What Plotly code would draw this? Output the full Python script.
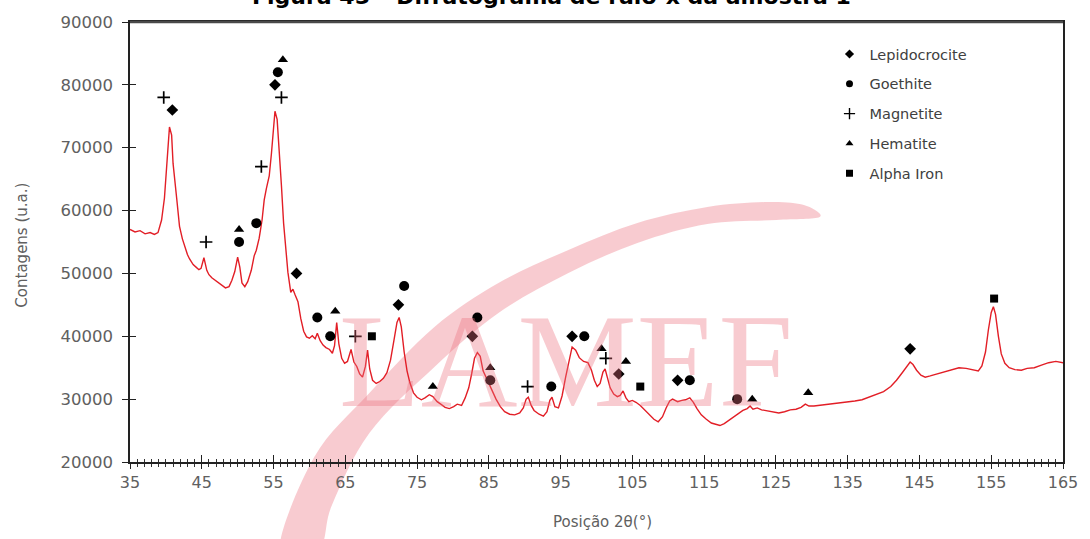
import plotly.graph_objects as go

# Diffractogram: 2-theta position (degrees) and counts
two_theta = [
    35.0, 35.7, 36.4, 37.1, 37.8, 38.4, 38.9, 39.4, 39.8, 40.2, 40.5, 40.8, 41.0, 41.5, 41.9,
    42.3, 42.6, 43.0, 43.3, 43.8, 44.2, 44.6, 44.9, 45.3, 45.7, 46.0, 46.4, 46.9, 47.4, 47.9,
    48.3, 48.8, 49.2, 49.6, 50.0, 50.3, 50.6, 51.0, 51.4, 51.9, 52.3, 52.6, 53.0, 53.4, 53.7,
    54.0, 54.4, 54.7, 55.0, 55.2, 55.5, 55.8, 56.1, 56.4, 56.7, 57.0, 57.4, 57.7, 58.0, 58.4,
    58.8, 59.2, 59.6, 60.0, 60.4, 60.8, 61.1, 61.5, 61.9, 62.3, 62.8, 63.2, 63.5, 63.8, 64.1,
    64.5, 64.9, 65.3, 65.8, 66.2, 66.6, 67.0, 67.4, 67.8, 68.1, 68.4, 68.8, 69.3, 69.8, 70.3,
    70.8, 71.3, 71.8, 72.2, 72.5, 72.8, 73.2, 73.6, 74.0, 74.5, 75.0, 75.6, 76.1, 76.7, 77.2,
    77.8, 78.3, 78.9, 79.5, 80.1, 80.6, 81.2, 81.7, 82.2, 82.6, 83.0, 83.4, 83.8, 84.2, 84.6,
    85.0, 85.5, 86.0, 86.6, 87.2, 87.9, 88.6, 89.3, 89.8, 90.2, 90.5, 90.9, 91.3, 92.0, 92.6,
    93.1, 93.5, 93.8, 94.2, 94.7, 95.2, 95.7, 96.2, 96.6, 97.1, 97.6, 98.2, 98.8, 99.3, 99.7,
    100.1, 100.5, 100.9, 101.2, 101.5, 101.9, 102.4, 102.9, 103.3, 103.7, 104.1, 104.5, 105.0,
    105.5, 106.1, 106.7, 107.4, 108.0, 108.6, 109.2, 109.7, 110.2, 110.6, 111.3, 111.9, 112.4,
    113.0, 113.5, 114.0, 114.6, 115.3, 116.0, 116.6, 117.2, 117.8, 118.4, 119.1, 119.8, 120.4,
    121.0, 121.4, 121.8, 122.4, 123.0, 123.8, 124.6, 125.4, 126.2, 127.0, 127.8, 128.5, 129.1,
    129.6, 130.3, 131.0, 132.0, 133.0, 134.0, 135.0, 136.0, 137.0, 138.0, 139.0, 140.0, 141.0,
    141.8, 142.6, 143.2, 143.7, 144.1, 144.6, 145.2, 145.8, 146.5, 147.5, 148.5, 149.5, 150.5,
    151.5, 152.5, 153.2, 153.7, 154.2, 154.6, 155.0, 155.3, 155.6, 156.0, 156.4, 156.9, 157.5,
    158.3, 159.2, 160.0, 161.0, 162.0, 163.0, 164.0, 165.0,
]
counts = [
    57000, 56600, 56800, 56300, 56500, 56200, 56500, 58500, 62000, 69000, 73300, 72000, 67500, 62000, 57500,
    55500, 54300, 53000, 52300, 51400, 51000, 50600, 50800, 52500, 50500, 49800, 49300, 48900, 48400, 48000,
    47700, 47900, 48900, 50300, 52600, 51000, 48500, 47900, 48700, 50500, 52800, 53700, 55600, 58500, 61700,
    63500, 65500, 69000, 73500, 75800, 74500, 70000, 64000, 58000, 53500, 50200, 47000, 47500, 46600, 45500,
    42800, 40800, 39900, 39700, 40100, 39600, 40500, 39300, 38600, 38200, 37900, 37300, 38500, 42200, 38800,
    36500, 35700, 36000, 37900, 35900, 35200, 34000, 33500, 35200, 37800, 34800, 33000, 32500, 32800, 33300,
    34200, 36200, 39500, 42200, 43000, 41500, 37500, 34500, 32600, 31000, 30300, 29900, 30200, 30700, 30400,
    29600, 29200, 28700, 28500, 28800, 29200, 29000, 30200, 31800, 34000, 36500, 37400, 36800, 34500, 33500,
    32600, 31500, 30000, 28800, 28000, 27600, 27500, 27800, 28600, 30000, 30300, 29000, 28200, 27600, 27300,
    28000, 29800, 30300, 28800, 28600, 30500, 33500, 36300, 38300, 37800, 36600, 36000, 35800, 34600, 33000,
    32000, 32500, 34300, 34800, 33500, 31800, 30800, 30400, 30600, 31300, 30200, 29600, 29800,
    29500, 29000, 28300, 27600, 26800, 26400, 27200, 28600, 29700, 30000, 29600, 29800, 29900,
    30200, 29500, 28500, 27500, 26800, 26200, 26000, 25800, 26100, 26600, 27100, 27800, 28200,
    28500, 28900, 28400, 28600, 28300, 28100, 27900, 27800, 28000, 28300, 28400, 28700, 29200,
    28900, 28900, 29000, 29100, 29200, 29400, 29500, 29700, 29900, 30300, 30700, 31200, 32000,
    33000, 34200, 35200, 35900, 35500, 34600, 33800, 33500, 33700, 34000, 34300, 34700, 35000,
    34900, 34600, 34500, 35300, 37500, 41000, 43800, 44700, 43500, 40000, 37200, 35700, 35000,
    34700, 34600, 34900, 35000, 35400, 35800, 36000, 35800,
]

# Phase identification markers (position, counts)
lepido_x = [40.9, 55.2, 58.2, 72.4, 82.7, 96.6, 103.1, 111.3, 143.7]
lepido_y = [76000, 80000, 50000, 45000, 40000, 40000, 34000, 33000, 38000]
goethite_x = [50.2, 52.6, 55.6, 61.1, 62.9, 73.2, 83.4, 85.2, 93.7, 98.3, 113.0, 119.6]
goethite_y = [55000, 58000, 82000, 43000, 40000, 48000, 43000, 33000, 32000, 40000, 33000, 30000]
magnetite_x = [39.7, 45.6, 53.3, 56.1, 66.4, 90.4, 101.3]
magnetite_y = [78000, 55000, 67000, 78000, 40000, 32000, 36500]
hematite_x = [50.2, 56.3, 63.6, 77.2, 85.2, 100.7, 104.1, 121.7, 129.5]
hematite_y = [57000, 84000, 44000, 32000, 35000, 38000, 36000, 30000, 31000]
alpha_x = [68.7, 106.1, 155.4]
alpha_y = [40000, 32000, 46000]

x_ticks = [35, 45, 55, 65, 75, 85, 95, 105, 115, 125, 135, 145, 155, 165]
y_ticks = [20000, 30000, 40000, 50000, 60000, 70000, 80000, 90000]

W, H = 1090, 539
L, R, T, B = 130, 13, 22, 77
PW, PH = W - L - R, H - T - B


def px(xp, yp):
    """Pixel position on the page -> paper coordinates."""
    return (xp - L) / PW, (H - B - yp) / PH


def smooth_path(points):
    """Closed Catmull-Rom outline through the given pixel points, as an SVG path in paper units."""
    p = [px(a, b) for a, b in points]
    n = len(p)
    d = f"M {p[0][0]:.4f},{p[0][1]:.4f}"
    for i in range(n):
        p0, p1, p2, p3 = p[i - 1], p[i], p[(i + 1) % n], p[(i + 2) % n]
        c1 = (p1[0] + (p2[0] - p0[0]) / 6, p1[1] + (p2[1] - p0[1]) / 6)
        c2 = (p2[0] - (p3[0] - p1[0]) / 6, p2[1] - (p3[1] - p1[1]) / 6)
        d += (f" C {c1[0]:.4f},{c1[1]:.4f} {c2[0]:.4f},{c2[1]:.4f} "
              f"{p2[0]:.4f},{p2[1]:.4f}")
    return d + " Z"


LABEL_FONT = "DejaVu Sans"
GREY = "#606060"
PINK = "rgba(235,110,125,0.36)"

fig = go.Figure()

fig.add_trace(go.Scatter(
    x=two_theta, y=counts, mode="lines",
    line=dict(color="rgb(226,30,38)", width=1.4),
    showlegend=False, hoverinfo="skip",
))

phases = [
    ("Lepidocrocite", lepido_x, lepido_y, dict(symbol="diamond", size=9), 7),
    ("Goethite", goethite_x, goethite_y, dict(symbol="circle", size=10), 7),
    ("Magnetite", magnetite_x, magnetite_y,
     dict(symbol="cross-thin", size=9, line=dict(width=1.7, color="black")), 8),
    ("Hematite", hematite_x, hematite_y, dict(symbol="triangle-up", size=9), 7),
    ("Alpha Iron", alpha_x, alpha_y, dict(symbol="square", size=8), 7),
]
for name, xs, ys, mk, leg_size in phases:
    fig.add_trace(go.Scatter(
        x=xs, y=ys, mode="markers", name=name, showlegend=False,
        marker=dict(color="black", **mk),
    ))
    # smaller symbol for the legend entry
    leg_mk = dict(mk, size=leg_size)
    if "line" in leg_mk:
        leg_mk["line"] = dict(width=1.4, color="black")
    fig.add_trace(go.Scatter(
        x=[None], y=[None], mode="markers", name=name, legendgroup=name,
        marker=dict(color="black", **leg_mk),
    ))

# empty traces so the overlay axes (inner half of the cross ticks) are drawn
fig.add_trace(go.Scatter(x=[], y=[], xaxis="x2", yaxis="y", showlegend=False))
fig.add_trace(go.Scatter(x=[], y=[], xaxis="x", yaxis="y2", showlegend=False))

# LAMEF watermark: swoosh
outline = [(282, 548), (317, 457), (373, 393), (439, 327), (504, 283), (575, 250),
           (645, 223), (716, 207), (777, 202), (814, 205), (830, 217),
           (786, 220), (716, 224), (645, 243), (575, 273), (504, 313), (439, 367),
           (373, 433), (335, 505), (322, 548)]
fig.add_shape(type="path", path=smooth_path(outline), xref="paper", yref="paper",
              fillcolor=PINK, line=dict(width=0), layer="below")

wx, wy = px(573, 361)
fig.add_annotation(text="LAMEF", x=wx, y=wy, xref="paper", yref="paper",
                   showarrow=False, xanchor="center", yanchor="middle",
                   font=dict(family="Liberation Serif", size=134, color=PINK))

# top frame line
fig.add_shape(type="line", xref="paper", yref="paper", x0=0, x1=1, y0=1, y1=1,
              line=dict(color="#4a4a4a", width=2.5))

# figure caption (cropped at the page top)
tx, ty = px(558, 11)
fig.add_annotation(text="<b>Figura 45 – Difratograma de raio-x da amostra 1</b>",
                   x=tx, y=ty, xref="paper", yref="paper", showarrow=False,
                   xanchor="center", yanchor="bottom",
                   font=dict(family="DejaVu Sans", size=22, color="black"))

# axis titles
ax, ay = px(610, 522)
fig.add_annotation(text="Posição 2θ(°)", x=ax, y=ay, xref="paper", yref="paper",
                   showarrow=False, xanchor="center", yanchor="middle",
                   font=dict(family=LABEL_FONT, size=15, color=GREY))
bx, by = px(20, 245)
fig.add_annotation(text="Contagens (u.a.)", x=bx, y=by, xref="paper", yref="paper",
                   showarrow=False, xanchor="center", yanchor="middle", textangle=-90,
                   font=dict(family=LABEL_FONT, size=15, color=GREY))

lx, ly = px(840, 38)
fig.update_layout(
    width=W, height=H,
    margin=dict(l=L, r=R, t=T, b=B, pad=0),
    paper_bgcolor="white", plot_bgcolor="rgba(0,0,0,0)",
    showlegend=True,
    legend=dict(x=lx, y=ly, xanchor="left", yanchor="top",
                bgcolor="rgba(0,0,0,0)", tracegroupgap=8,
                font=dict(family=LABEL_FONT, size=14.5, color="#404040")),
    xaxis=dict(range=[35, 165], tickvals=x_ticks, ticktext=[str(v) for v in x_ticks],
               showgrid=False, zeroline=False, showline=True, linecolor="#222",
               linewidth=1.5, mirror=True, ticks="outside", ticklen=5, tickwidth=1.3,
               tickcolor="#222", ticklabeloverflow="allow",
               minor=dict(dtick=1, tick0=35, ticks="outside", ticklen=3, tickwidth=1, tickcolor="#333"),
               tickfont=dict(family=LABEL_FONT, size=16, color=GREY)),
    xaxis2=dict(range=[35, 165], overlaying="x", anchor="y", side="bottom",
                tickvals=x_ticks, showticklabels=False, showgrid=False, zeroline=False,
                showline=False, ticks="inside", ticklen=7, tickwidth=1.3, tickcolor="#222",
                minor=dict(dtick=1, tick0=35, ticks="inside", ticklen=3, tickwidth=1, tickcolor="#333")),
    yaxis=dict(range=[20000, 90000], tickvals=y_ticks, ticktext=[str(v) for v in y_ticks],
               showgrid=False, zeroline=False, showline=True, linecolor="#222",
               linewidth=1.5, mirror=True, ticks="outside", ticklen=6, tickwidth=1.3,
               tickcolor="#222", ticklabelstandoff=6,
               tickfont=dict(family=LABEL_FONT, size=16.5, color=GREY)),
    yaxis2=dict(range=[20000, 90000], overlaying="y", anchor="x", side="left",
                tickvals=y_ticks, showticklabels=False, showgrid=False, zeroline=False,
                showline=False, ticks="inside", ticklen=6, tickwidth=1.3, tickcolor="#222"),
)

fig.write_html("out.html")
